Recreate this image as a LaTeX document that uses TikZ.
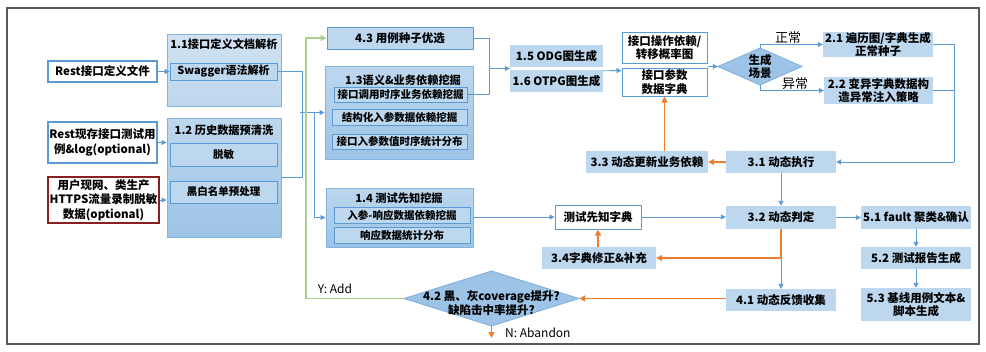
\documentclass[tikz,border=0pt]{standalone}
\usepackage{fontspec}
\setmainfont{Noto Sans CJK SC}
\usetikzlibrary{arrows.meta,calc}
\definecolor{lb}{HTML}{BDD7EE}
\definecolor{mb}{HTML}{9DC3E6}
\definecolor{bb}{HTML}{5B9BD5}
\definecolor{ob}{HTML}{ED7D31}
\definecolor{gb}{HTML}{A9D18E}
\definecolor{rb}{HTML}{8B1E1E}
\definecolor{fr}{HTML}{595959}
\begin{document}
\begin{tikzpicture}[x=1pt,y=-1pt,
  every node/.style={font=\bfseries\fontsize{11.5}{13.5}\selectfont, inner sep=0pt, align=center, text=black},
  wh/.style args={#1x#2}{minimum width=#1pt, minimum height=#2pt},
  inp/.style={draw=bb, line width=1.2pt, fill=white, font=\bfseries\fontsize{11.5}{14.5}\selectfont},
  grp/.style={draw=mb!60!bb, line width=0.9pt, top color=lb, bottom color=mb},
  sub/.style={draw=bb, line width=0.8pt, fill=lb, font=\bfseries\fontsize{10.5}{12.5}\selectfont},
  pbox/.style={fill=lb},
  wbox/.style={draw=bb, line width=1pt, fill=white},
  ttl/.style={font=\bfseries\fontsize{11.2}{13}\selectfont},
  lbl/.style={font=\fontsize{13}{15}\selectfont},
  dia/.style={draw=bb!80!white, line width=0.8pt, fill=mb},
  ln/.style={draw=bb, line width=0.9pt},
  arr/.style={ln, -{Triangle[length=5pt,width=5pt]}},
  oarr/.style={draw=ob, line width=1.5pt, -{Triangle[length=6pt,width=6pt]}},
  garr/.style={draw=gb, line width=1.5pt, -{Triangle[length=6pt,width=6pt]}}]
\useasboundingbox (0,0) rectangle (986,351);
\draw[fr, line width=1.5pt] (7,8) rectangle (979,344);

% inputs
\node[inp, wh=109x21] (f1) at (102.5,71.5) {Rest接口定义文件};
\node[inp, wh=109x41] (f2) at (102.5,142.5) {Rest现存接口测试用\\例\&log(optional)};
\node[inp, draw=rb, wh=111x46] (f3) at (103.5,200) {用户现网、类生产\\HTTPS流量录制脱敏\\数据(optional)};

% stage 1
\node[grp, top color=lb!70!white, bottom color=lb, wh=114x72] (b11) at (224,70) {};
\node[ttl] (t11) at (224,44) {1.1接口定义文档解析};
\node[sub, font=\bfseries\fontsize{11}{13}\selectfont, wh=107x17] (s11) at (223.5,71.5) {Swagger语法解析};
\node[grp, wh=114x119] (b12) at (224,177.5) {};
\node[ttl] (t12) at (224,130) {1.2 历史数据预清洗};
\node[sub, wh=107x23] (s12a) at (223.5,154.5) {脱敏};
\node[sub, wh=107x22] (s12b) at (223.5,192) {黑白名单预处理};

\node[pbox, draw=bb, line width=0.9pt, wh=146x22] (b43) at (400,38) {4.3 用例种子优选};
\node[grp, wh=148x93] (b13) at (399,112.5) {};
\node[ttl] (t13) at (403,80) {1.3语义\&业务依赖挖掘};
\node[sub, wh=133x15] (s13a) at (400.5,94.5) {接口调用时序业务依赖挖掘};
\node[sub, wh=135x16] (s13b) at (399.5,117) {结构化入参数据依赖挖掘};
\node[sub, wh=135x15] (s13c) at (399.5,141.5) {接口入参数值时序统计分布};
\node[grp, wh=147x59] (b14) at (399.5,217.5) {};
\node[ttl] (t14) at (399,198) {1.4 测试先知挖掘};
\node[sub, wh=136x16] (s14a) at (402,215) {入参-响应数据依赖挖掘};
\node[sub, wh=136x16] (s14b) at (402,235) {响应数据统计分布};

\node[pbox, wh=93x22] (b15) at (556.5,56) {1.5 ODG图生成};
\node[pbox, wh=93x22] (b16) at (556.5,81) {1.6 OTPG图生成};
\node[wbox, wh=85x31] (g1) at (664.5,47.5) {接口操作依赖/\\转移概率图};
\node[wbox, wh=85x28] (g2) at (664.5,82) {接口参数\\数据字典};

% stage 2
\draw[dia] (718,66.5) -- (760,48) -- (802,66.5) -- (760,85) -- cycle;
\node[wh=84x37] (d1) at (760,66.5) {生成\\场景};
\node[pbox, wh=110x25] (b21) at (878,44.5) {2.1 遍历图/字典生成\\正常种子};
\node[pbox, wh=109x27] (b22) at (878.5,90.5) {2.2 变异字典数据构\\造异常注入策略};
\node[lbl] (l1) at (788,38) {正常};
\node[lbl] (l2) at (795,84) {异常};

% stage 3
\node[pbox, wh=110x22] (b31) at (781,162) {3.1 动态执行};
\node[pbox, wh=122x22] (b33) at (647,162) {3.3 动态更新业务依赖};
\node[pbox, wh=110x23] (b32) at (781,217.5) {3.2 动态判定};
\node[wbox, wh=86x24] (dict) at (598,217) {测试先知字典};
\node[pbox, wh=114x22] (b34) at (599,258) {3.4字典修正\&补充};
\node[pbox, wh=110x22] (b41) at (781,300) {4.1 动态反馈收集};

\draw[dia] (404,298.5) -- (491.5,271) -- (579,298.5) -- (491.5,326) -- cycle;
\node[wh=175x55] (d2) at (491.5,298.5) {};
\node[font=\bfseries\fontsize{11.5}{13.5}\selectfont] (d2t) at (491.5,303) {4.2 黑、灰coverage提升?\\缺陷击中率提升?};

% stage 5
\node[pbox, wh=110x23] (b51) at (916,217.5) {5.1 fault 聚类\&确认};
\node[pbox, wh=110x22] (b52) at (916,258) {5.2 测试报告生成};
\node[pbox, wh=110x33] (b53) at (916,304.5) {5.3 基线用例文本\&\\脚本生成};

\node[lbl, font=\fontsize{12}{14}\selectfont] (ly) at (335,289) {Y: Add};
\node[lbl, font=\fontsize{12}{14}\selectfont, anchor=west] (lnab) at (505,333) {N: Abandon};

% connectors
\draw[arr] (f1.east) -- (s11.west);
\draw[arr] (f2.east) -- (f2.east -| b12.west);
\draw[arr] (f3.east) -- (f3.east -| b12.west);
\coordinate (v1) at (302,71.5);
\draw[ln] (s11.east) -- (v1) |- (b12.east);
\coordinate (j1) at (300,112.5);
\draw[arr] (j1) -- (b13.west);
\coordinate (j2) at (314,112.5);
\draw[arr] (j2) |- (b14.west);
\coordinate (g0) at (306,298.5);
\draw[garr] (d2.west) -- (g0) |- (b43.west);

\coordinate (v2) at (489,68.5);
\draw[ln] (b43.east) -| (v2);
\draw[ln] (s13a.east) -| (v2);
\coordinate (j4) at ($(b15.south west)!0.5!(b16.north west)$);
\draw[arr] (v2) -- (j4);
\draw[arr] ($(b16.north east)+(0,1)$) -- ($(g2.north west)+(0,3)$);
\coordinate (j6) at ($(g1.south east)!0.5!(g2.north east)$);
\draw[arr] (j6 |- d1.west) -- (d1.west);
\draw[arr] (d1.north) |- (b21.west);
\draw[arr] (d1.south) |- (b22.west);
\coordinate (v3) at (954,162);
\draw[ln] (b21.east) -| (v3);
\draw[ln] (b22.east) -- (b22.east -| v3);
\draw[arr] (v3) -- (b31.east);
\draw[arr] (b31.south) -- (b32.north);
\draw[arr] (dict.west -| b14.east) -- (dict.west);
\draw[arr] (dict.east) -- (dict.east -| b32.west);
\draw[arr] (b32.east) -- (b32.east -| b51.west);
\draw[arr] (b51.south) -- (b52.north);
\draw[arr] (b52.south) -- (b53.north);
\draw[arr] (b32.south) -- (b41.north);

\draw[oarr] (b31.west) -- (b33.east);
\draw[oarr] (g2.south |- b33.north) -- (g2.south);
\draw[oarr] (b32.south) |- (b34.east);
\draw[oarr] (dict.south |- b34.north) -- (dict.south);
\draw[oarr] (d2.east -| b41.west) -- (d2.east);
\coordinate (n0) at (491.5,338);
\draw[oarr, line width=1.2pt] (d2.south) -- (n0);
\end{tikzpicture}
\end{document}
